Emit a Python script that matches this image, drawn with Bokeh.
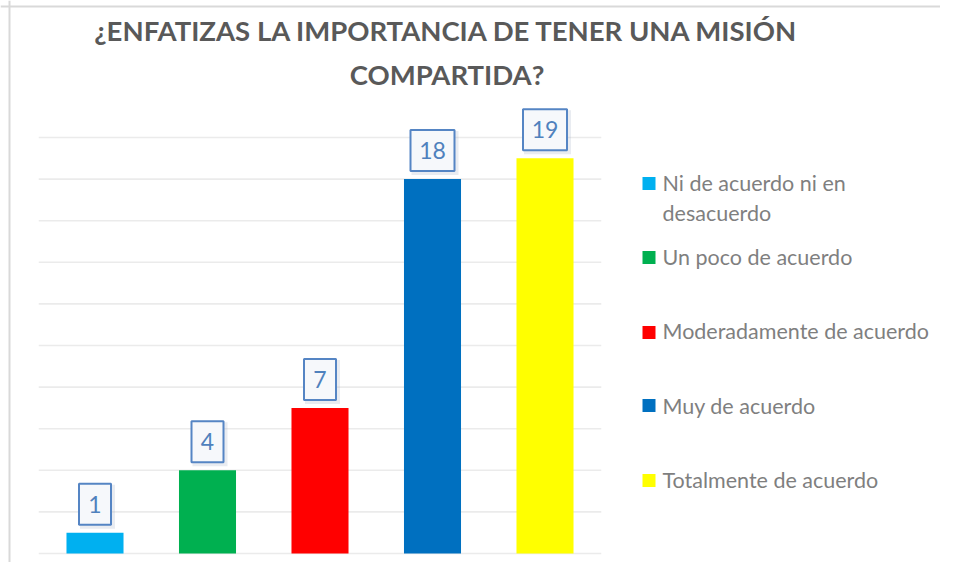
from bokeh.plotting import figure
from bokeh.models import Span
from bokeh.core.properties import value
from bokeh.embed import file_html
from bokeh.resources import INLINE

# ---- data ----
categories = ["Ni de acuerdo ni en desacuerdo", "Un poco de acuerdo",
              "Moderadamente de acuerdo", "Muy de acuerdo", "Totalmente de acuerdo"]
legend_lines = [["Ni de acuerdo ni en", "desacuerdo"], ["Un poco de acuerdo"],
                ["Moderadamente de acuerdo"], ["Muy de acuerdo"], ["Totalmente de acuerdo"]]
counts = [1, 4, 7, 18, 19]
colors = ["#00b0f0", "#00b050", "#ff0000", "#0070c0", "#ffff00"]
title_lines = ["¿ENFATIZAS LA IMPORTANCIA DE TENER UNA MISIÓN", "COMPARTIDA?"]
grid_values = [0, 2, 4, 6, 8, 10, 12, 14, 16, 18, 20]

# ---- layout (pixels) ----
W, H = 940, 562
PX_X = 112.5      # pixels per category
PX_Y = 20.8       # pixels per unit
X0 = 94.5         # canvas x of first category centre
Y0 = 553.0        # canvas y of baseline
x_start = -X0 / PX_X
x_end = (W - X0) / PX_X
y_start = -(H - Y0) / PX_Y
y_end = Y0 / PX_Y

def dx(px):
    return x_start + px / PX_X

def dy(py):
    return y_end - py / PX_Y

p = figure(width=W, height=H, x_range=(x_start, x_end), y_range=(y_start, y_end),
           output_backend="svg", toolbar_location=None,
           x_axis_location=None, y_axis_location=None, min_border=0)
p.grid.visible = False
p.outline_line_color = None
p.background_fill_color = "white"
p.border_fill_color = "white"

# frame border (top & left)
p.add_layout(Span(location=dx(9), dimension="height", line_color="#d9d9d9", line_width=2))
p.add_layout(Span(location=dy(6), dimension="width", line_color="#d9d9d9", line_width=2))

# gridlines
p.segment(x0=[-0.5] * len(grid_values), x1=[len(counts) - 0.5] * len(grid_values),
          y0=grid_values, y1=grid_values, line_color="#ebebeb", line_width=1.6)

xs = list(range(len(counts)))
p.vbar(x=xs, top=counts, bottom=0, width=0.507, fill_color=colors, line_color=None)

# data labels
label_txt = [str(c) for c in counts]
box_w = [32 if len(t) == 1 else 44 for t in label_txt]
box_y = [c + 28.5 / PX_Y for c in counts]
shadow_y = [y - 2.5 / PX_Y for y in box_y]
shadow_x = [x + 2.5 / PX_X for x in xs]
p.rect(x=shadow_x, y=shadow_y, width=[w + 3 for w in box_w], height=44,
       width_units="screen", height_units="screen",
       fill_color="#9aa8bd", fill_alpha=0.22, line_color=None)
p.rect(x=xs, y=box_y, width=box_w, height=41, width_units="screen", height_units="screen",
       fill_color="#f6f8fb", line_color="#5585c4", line_width=2)
p.text(x=xs, y=box_y, text=label_txt, text_align="center", text_baseline="middle",
       text_font=value("Lato"), text_font_size="23px", text_color="#4f81bd")

# title
p.text(x=[dx(446.5)] * 2, y=[dy(30), dy(74)], text=title_lines,
       text_align="center", text_baseline="middle", text_font=value("Lato"),
       text_font_style="bold", text_font_size="27.5px", text_color="#595959")

# legend
leg_sq_y = [183, 257, 332, 405, 480]
leg_tx_y = [182, 256, 330, 405, 479]
p.rect(x=[dx(648.5)] * len(colors), y=[dy(v) for v in leg_sq_y], width=13, height=13,
       width_units="screen", height_units="screen", fill_color=colors, line_color=None)
lt, ly = [], []
for lines, sy in zip(legend_lines, leg_tx_y):
    for k, ln in enumerate(lines):
        lt.append(ln)
        ly.append(dy(sy + k * 30))
p.text(x=[dx(662)] * len(lt), y=ly, text=lt, text_align="left", text_baseline="middle",
       text_font=value("Lato"), text_font_size="21.5px", text_color="#7f7f7f")

open("out.html", "w").write(file_html(p, INLINE))
